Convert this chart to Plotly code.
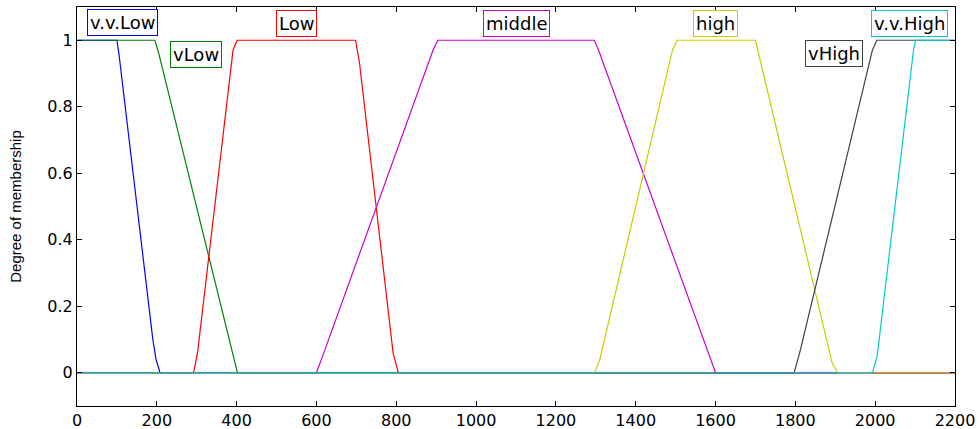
import plotly.graph_objects as go

# Membership function breakpoints
vvlow_x = [0, 100, 105, 190, 198, 208, 2200]
vvlow_y = [1, 1, 0.96, 0.10, 0.04, 0, 0]

vlow_x = [0, 195, 205, 390, 402, 2200]
vlow_y = [1, 1, 0.96, 0.05, 0, 0]

low_x = [0, 292, 302, 391, 401, 698, 708, 792, 805, 2200]
low_y = [0, 0, 0.06, 0.97, 1, 1, 0.93, 0.06, 0, 0]

middle_x = [0, 600, 620, 892, 904, 1296, 1307, 1600, 2200]
middle_y = [0, 0, 0.065, 0.97, 1, 1, 0.97, 0, 0]

high_x = [0, 1297, 1310, 1492, 1504, 1700, 1892, 1906, 2200]
high_y = [0, 0, 0.04, 0.97, 1, 1, 0.03, 0, 0]

vhigh_x = [0, 1797, 1812, 1993, 2004, 2200]
vhigh_y = [0, 0, 0.066, 0.97, 1, 1]

vvhigh_x = [0, 1993, 2005, 2096, 2101, 2200]
vvhigh_y = [0, 0, 0.05, 0.97, 1, 1]

names = ["v.v.Low", "vLow", "Low", "middle", "high", "vHigh", "v.v.High"]
colors = ["#0000ff", "#008000", "#ff0000", "#cc00cc", "#cccc00", "#404040", "#00cccc"]
series = [(vvlow_x, vvlow_y), (vlow_x, vlow_y), (low_x, low_y), (middle_x, middle_y),
          (high_x, high_y), (vhigh_x, vhigh_y), (vvhigh_x, vvhigh_y)]

# label anchor positions (data coords)
label_x = [113, 298, 549, 1100, 1599, 1897, 2085]
label_y = [1.054, 0.958, 1.051, 1.051, 1.051, 0.961, 1.051]

x_ticks = list(range(0, 2201, 200))
y_ticks = [0, 0.2, 0.4, 0.6, 0.8, 1]
y_ticktext = ["0", "0.2", "0.4", "0.6", "0.8", "1"]

fig = go.Figure()
for (xs, ys), n, c in zip(series, names, colors):
    fig.add_trace(go.Scatter(x=xs, y=ys, mode="lines", name=n,
                             line=dict(color=c, width=1.2), showlegend=False))

for n, c, lx, ly in zip(names, colors, label_x, label_y):
    fig.add_annotation(x=lx, y=ly, text=n, showarrow=False, xanchor="center", yanchor="middle",
                       font=dict(family="DejaVu Sans", size=18, color="black"),
                       bgcolor="white", bordercolor=c, borderwidth=1, borderpad=2)

axis_common = dict(showline=True, linecolor="black", linewidth=1, mirror="ticks",
                   ticks="inside", ticklen=5, tickcolor="black", showgrid=False, zeroline=False,
                   automargin=False,
                   tickfont=dict(family="DejaVu Sans", size=16, color="black"))

fig.update_xaxes(range=[0, 2200], tickvals=x_ticks, **axis_common)
fig.update_yaxes(range=[-0.1, 1.1], tickvals=y_ticks, ticktext=y_ticktext,
                 title=dict(text="Degree of membership", standoff=22,
                            font=dict(family="Liberation Sans", size=15, color="black")),
                 **axis_common)

fig.update_layout(width=979, height=429, margin=dict(l=77, r=24, t=7, b=23),
                  plot_bgcolor="white", paper_bgcolor="white")

fig.write_html("out.html")
